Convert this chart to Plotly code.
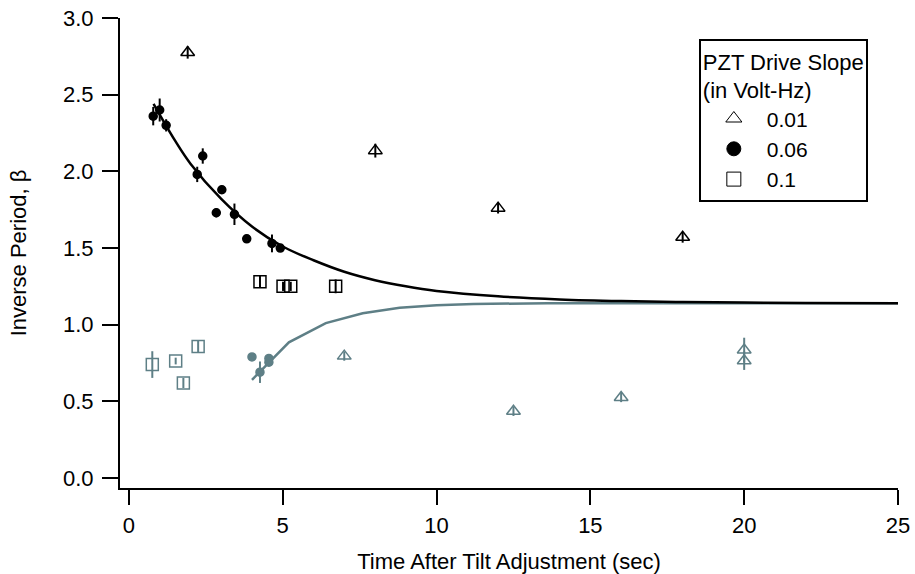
import plotly.graph_objects as go

# Fitted relaxation curves (sampled)
fit_blk_x = [0.8, 1.5, 2.0, 3.0, 4.0, 5.0, 6.0, 7.0, 8.0, 9.0, 10.0, 12.0, 14.0, 16.0, 18.0, 20.0, 22.0, 25.0]
fit_blk_y = [2.44, 2.20, 2.05, 1.82, 1.64, 1.51, 1.42, 1.345, 1.29, 1.25, 1.22, 1.185, 1.165, 1.154, 1.148, 1.144, 1.142, 1.14]

fit_gry_x = [4.0, 5.2, 6.4, 7.6, 8.8, 10.0, 11.2, 12.4, 13.6, 16.0, 20.0, 25.0]
fit_gry_y = [0.64, 0.885, 1.01, 1.075, 1.11, 1.127, 1.135, 1.139, 1.14, 1.14, 1.14, 1.14]

# Drive slope 0.06
circ_blk_x = [0.79, 1.00, 1.21, 2.22, 2.40, 2.84, 3.02, 3.43, 3.83, 4.65, 4.92]
circ_blk_y = [2.36, 2.40, 2.30, 1.98, 2.10, 1.73, 1.88, 1.72, 1.56, 1.53, 1.50]
circ_blk_err = [0.06, 0.075, 0.04, 0.05, 0.05, 0.03, 0.0, 0.07, 0.0, 0.058, 0.0]

circ_gry_x = [4.00, 4.26, 4.55, 4.55]
circ_gry_y = [0.79, 0.69, 0.78, 0.755]
circ_gry_err = [0.0, 0.07, 0.0, 0.02]

# Drive slope 0.1
sq_blk_x = [4.26, 5.01, 5.26, 6.72]
sq_blk_y = [1.28, 1.25, 1.25, 1.25]
sq_blk_err = [0.04, 0.03, 0.03, 0.045]

sq_gry_x = [0.76, 1.52, 1.77, 2.25]
sq_gry_y = [0.74, 0.763, 0.62, 0.857]
sq_gry_err = [0.087, 0.022, 0.033, 0.04]

# Drive slope 0.01
tri_blk_x = [1.91, 8.01, 12.0, 18.0]
tri_blk_y = [2.775, 2.135, 1.76, 1.57]
tri_blk_err = [0.04, 0.045, 0.035, 0.035]

tri_gry_x = [7.0, 12.5, 16.0, 20.0, 20.0]
tri_gry_y = [0.795, 0.435, 0.525, 0.835, 0.765]
tri_gry_err = [0.03, 0.03, 0.03, 0.08, 0.06]

legend_labels = ["0.01", "0.06", "0.1"]
legend_symbols = ["triangle-up-open", "circle", "square-open"]

BLK = "#000000"
GRY = "#5e7f86"
FONT = "Liberation Sans, Arial, Helvetica, sans-serif"

fig = go.Figure()

fig.add_trace(go.Scatter(x=fit_gry_x, y=fit_gry_y, mode="lines",
                         line=dict(color=GRY, width=2.5), showlegend=False, hoverinfo="skip"))
fig.add_trace(go.Scatter(x=fit_blk_x, y=fit_blk_y, mode="lines",
                         line=dict(color=BLK, width=2.5, shape="spline"), showlegend=False, hoverinfo="skip"))


def points(x, y, err, symbol, color, size):
    return go.Scatter(
        x=x, y=y, mode="markers",
        marker=dict(symbol=symbol, size=size, color=color, line=dict(color=color, width=1.5)),
        error_y=dict(type="data", array=err, visible=True, width=0, thickness=2, color=color),
        showlegend=False,
    )


fig.add_trace(points(sq_gry_x, sq_gry_y, sq_gry_err, "square-open", GRY, 12))
fig.add_trace(points(sq_blk_x, sq_blk_y, sq_blk_err, "square-open", BLK, 12))
fig.add_trace(points(tri_gry_x, tri_gry_y, tri_gry_err, "triangle-up-open", GRY, 12))
fig.add_trace(points(tri_blk_x, tri_blk_y, tri_blk_err, "triangle-up-open", BLK, 12))
fig.add_trace(points(circ_gry_x, circ_gry_y, circ_gry_err, "circle", GRY, 8))
fig.add_trace(points(circ_blk_x, circ_blk_y, circ_blk_err, "circle", BLK, 8))

# Legend entries
for lab, sym in zip(legend_labels, legend_symbols):
    fig.add_trace(go.Scatter(
        x=[None], y=[None], mode="markers", name=lab,
        marker=dict(symbol=sym, size=14, color=BLK, line=dict(color=BLK, width=1)),
        showlegend=True,
    ))

fig.update_layout(
    width=915, height=574,
    margin=dict(l=120, r=17, t=18, b=86),
    paper_bgcolor="white", plot_bgcolor="white",
    font=dict(family=FONT, size=22, color="black"),
    legend=dict(
        title=dict(text="PZT Drive Slope<br>(in Volt-Hz)", font=dict(size=22)),
        x=0.744, y=0.955, xanchor="left", yanchor="top",
        bordercolor="black", borderwidth=2, bgcolor="white",
        font=dict(size=21), tracegroupgap=0, itemwidth=56,
    ),
    xaxis=dict(
        range=[-0.29, 25], showgrid=False, zeroline=False, automargin=False,
        showline=True, linecolor="black", linewidth=2,
        ticks="outside", ticklen=15, tickwidth=2, tickcolor="black",
        tickvals=[0, 5, 10, 15, 20, 25], ticklabelstandoff=2,
        title=dict(text="Time After Tilt Adjustment (sec)", standoff=18, font=dict(size=22)),
    ),
    yaxis=dict(
        range=[-0.065, 3.0], showgrid=False, zeroline=False, automargin=False,
        showline=True, linecolor="black", linewidth=2,
        ticks="outside", ticklen=16, tickwidth=2, tickcolor="black",
        tickvals=[0, 0.5, 1.0, 1.5, 2.0, 2.5, 3.0], tickformat=".1f",
        ticklabelstandoff=4,
        title=dict(text="Inverse Period, β", standoff=30, font=dict(size=22)),
    ),
)

fig.write_html("out.html")
